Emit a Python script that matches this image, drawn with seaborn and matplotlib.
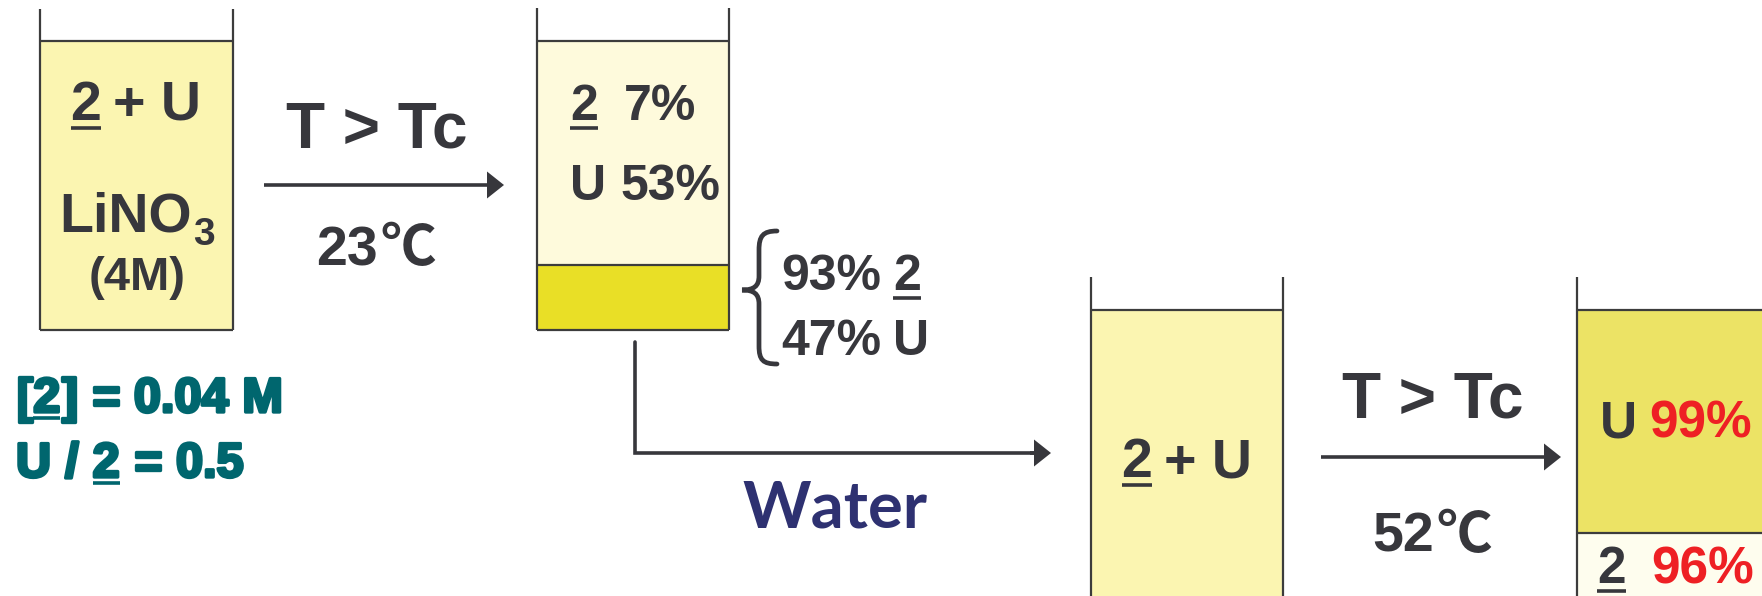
"""Temperature-driven phase separation of 2 + U, drawn as a beaker schematic."""
import matplotlib
matplotlib.use("Agg")
import matplotlib.pyplot as plt
import seaborn as sns
from matplotlib.path import Path
from matplotlib.patches import PathPatch
import matplotlib.patheffects as pe

# ---- values ----
temps_c = [23, 52]                 # critical temperatures of the two steps
salt_molar = 4                     # LiNO3 concentration (M)
conc_2 = 0.04                      # [2] in M
ratio_u_2 = 0.5                    # U / 2
upper_species = ["2", "U"]         # beaker 2, upper (dilute) phase
upper_pct = [7, 53]
lower_species = ["2", "U"]         # beaker 2, lower (rich) phase
lower_pct = [93, 47]
final_species = ["U", "2"]         # beaker 4, upper / lower phase
final_pct = [99, 96]

W, H = 1762, 596
DARK = "#37373c"
TEAL = "#00666e"
RED = "#ee2024"
NAVY = "#2e3171"
PALE = "#fbf5b1"
SANS = ["Liberation Sans", "DejaVu Sans"]
DEG = ["Liberation Sans", "Noto Sans CJK JP", "DejaVu Sans"]

sns.set_theme(style="white")
plt.rcParams["font.family"] = SANS

fig = plt.figure(figsize=(W / 100, H / 100), dpi=100, facecolor="white")
ax = fig.add_axes([0, 0, 1, 1])
ax.set_xlim(0, W)
ax.set_ylim(H, 0)
ax.axis("off")
renderer = fig.canvas.get_renderer()


def width_of(s, size, family=SANS):
    t = ax.text(0, 0, s, fontsize=size, fontweight="bold", family=family)
    w = t.get_window_extent(renderer).width
    t.remove()
    return w


def runs(x, y, parts, size, ha="left", family=SANS, effects=None, ul_off=8, ul_lw=2.6):
    """parts: (text, color, underline, gap_before[, size, dy])."""
    parts = [p + (size, 0) if len(p) == 4 else p for p in parts]
    widths = [width_of(p[0], p[4], family) for p in parts]
    total = sum(widths) + sum(p[3] for p in parts)
    x0 = x - total / 2 if ha == "center" else x
    for (s, c, ul, gap, sz, dy), w in zip(parts, widths):
        x0 += gap
        ax.text(x0, y + dy, s, fontsize=sz, fontweight="bold", family=family, color=c,
                ha="left", va="baseline", path_effects=effects)
        if ul:
            ax.plot([x0, x0 + w], [y + ul_off] * 2, color=c, lw=ul_lw, solid_capstyle="butt")
        x0 += w


def beaker(x0, x1, top, liquid, bottom, layers):
    for y_a, y_b, col in layers:
        ax.bar((x0 + x1) / 2, y_b - y_a, width=x1 - x0, bottom=y_a, color=col, linewidth=0)
    kw = dict(color="#3c3c3c", lw=1.6, solid_capstyle="butt")
    ax.plot([x0, x0], [top, bottom], **kw)
    ax.plot([x1, x1], [top, bottom], **kw)
    ax.plot([x0, x1], [bottom, bottom], **kw)
    ax.plot([x0, x1], [liquid, liquid], **kw)
    for y_a, _, _ in layers[1:]:
        ax.plot([x0, x1], [y_a, y_a], **kw)


def arrow(x0, x1, y):
    ax.arrow(x0, y, x1 - x0, 0, width=3.6, head_width=27, head_length=17,
             length_includes_head=True, color=DARK, linewidth=0)


# ---- beaker 1 : starting mixture ----
beaker(40, 233, 9, 41, 330, [(41, 330, PALE)])
runs(136, 120, [("2", DARK, True, 0), ("+ U", DARK, False, 12)], 40, ha="center")
runs(137, 232, [("LiNO", DARK, False, 0), ("3", DARK, False, 2, 28, 13)], 40, ha="center")
runs(137, 290, [(f"({salt_molar}M)", DARK, False, 0)], 34, ha="center")

# ---- step 1 ----
arrow(264, 504, 185)
runs(377, 147, [("T > Tc", DARK, False, 0)], 46, ha="center")
runs(376, 265, [(f"{temps_c[0]}", DARK, False, 0), ("\u2103", DARK, False, 2)], 40,
     ha="center", family=DEG)

# ---- beaker 2 : two phases ----
beaker(537, 729, 8, 41, 330, [(41, 265, "#fefadc"), (265, 330, "#e9df26")])
runs(570, 120, [(upper_species[0], DARK, True, 0), (f"{upper_pct[0]}%", DARK, False, 26)], 36)
runs(570, 200, [(upper_species[1], DARK, False, 0), (f"{upper_pct[1]}%", DARK, False, 14)], 36)

# brace next to the lower phase
brace = Path(
    [(777, 231), (763, 231), (759, 236), (759, 250), (759, 276),
     (759, 286), (754, 290), (742, 290),
     (754, 290), (759, 294), (759, 304), (759, 346),
     (759, 360), (763, 364), (777, 364)],
    [Path.MOVETO, Path.CURVE4, Path.CURVE4, Path.CURVE4, Path.LINETO,
     Path.CURVE4, Path.CURVE4, Path.CURVE4,
     Path.CURVE4, Path.CURVE4, Path.CURVE4, Path.LINETO,
     Path.CURVE4, Path.CURVE4, Path.CURVE4])
ax.add_patch(PathPatch(brace, fill=False, edgecolor=DARK, lw=3.4, capstyle="round"))
runs(781, 290, [(f"{lower_pct[0]}%", DARK, False, 0), (lower_species[0], DARK, True, 12)], 36)
runs(781, 355, [(f"{lower_pct[1]}%", DARK, False, 0), (lower_species[1], DARK, False, 12)], 36)

# ---- transfer with water ----
ax.plot([635, 635, 1040], [342, 453, 453], color=DARK, lw=2.6, solid_joinstyle="miter")
arrow(1030, 1051, 453)
runs(835, 527, [("Water", NAVY, False, 0)], 47, ha="center", family=["Lato", "DejaVu Sans"])

# ---- beaker 3 ----
beaker(1091, 1283, 277, 310, 620, [(310, 620, PALE)])
runs(1187, 477, [("2", DARK, True, 0), ("+ U", DARK, False, 12)], 40, ha="center")

# ---- step 2 ----
arrow(1321, 1561, 457)
runs(1433, 418, [("T > Tc", DARK, False, 0)], 46, ha="center")
runs(1432, 552, [(f"{temps_c[1]}", DARK, False, 0), ("\u2103", DARK, False, 2)], 40,
     ha="center", family=DEG)

# ---- beaker 4 : final separation ----
beaker(1577, 1769, 277, 310, 620, [(310, 533, "#ece365"), (533, 620, "#fefdee")])
runs(1600, 437, [(final_species[0], DARK, False, 0), (f"{final_pct[0]}%", RED, False, 12)], 37)
runs(1597, 583, [(final_species[1], DARK, True, 0), (f"{final_pct[1]}%", RED, False, 26)], 37)

# ---- conditions (teal) ----
heavy = [pe.withStroke(linewidth=2.4, foreground=TEAL)]
runs(16, 412, [("[", TEAL, False, 0), ("2", TEAL, True, 1), ("]", TEAL, False, 1),
               ("=", TEAL, False, 14), (f"{conc_2}", TEAL, False, 14), ("M", TEAL, False, 14)],
     35, effects=heavy, ul_off=6)
runs(16, 477, [("U", TEAL, False, 0), ("/", TEAL, False, 14), ("2", TEAL, True, 14),
               ("=", TEAL, False, 14), (f"{ratio_u_2}", TEAL, False, 14)],
     35, effects=heavy, ul_off=6)

fig.savefig("out.png", dpi=100, facecolor="white")
plt.close(fig)
